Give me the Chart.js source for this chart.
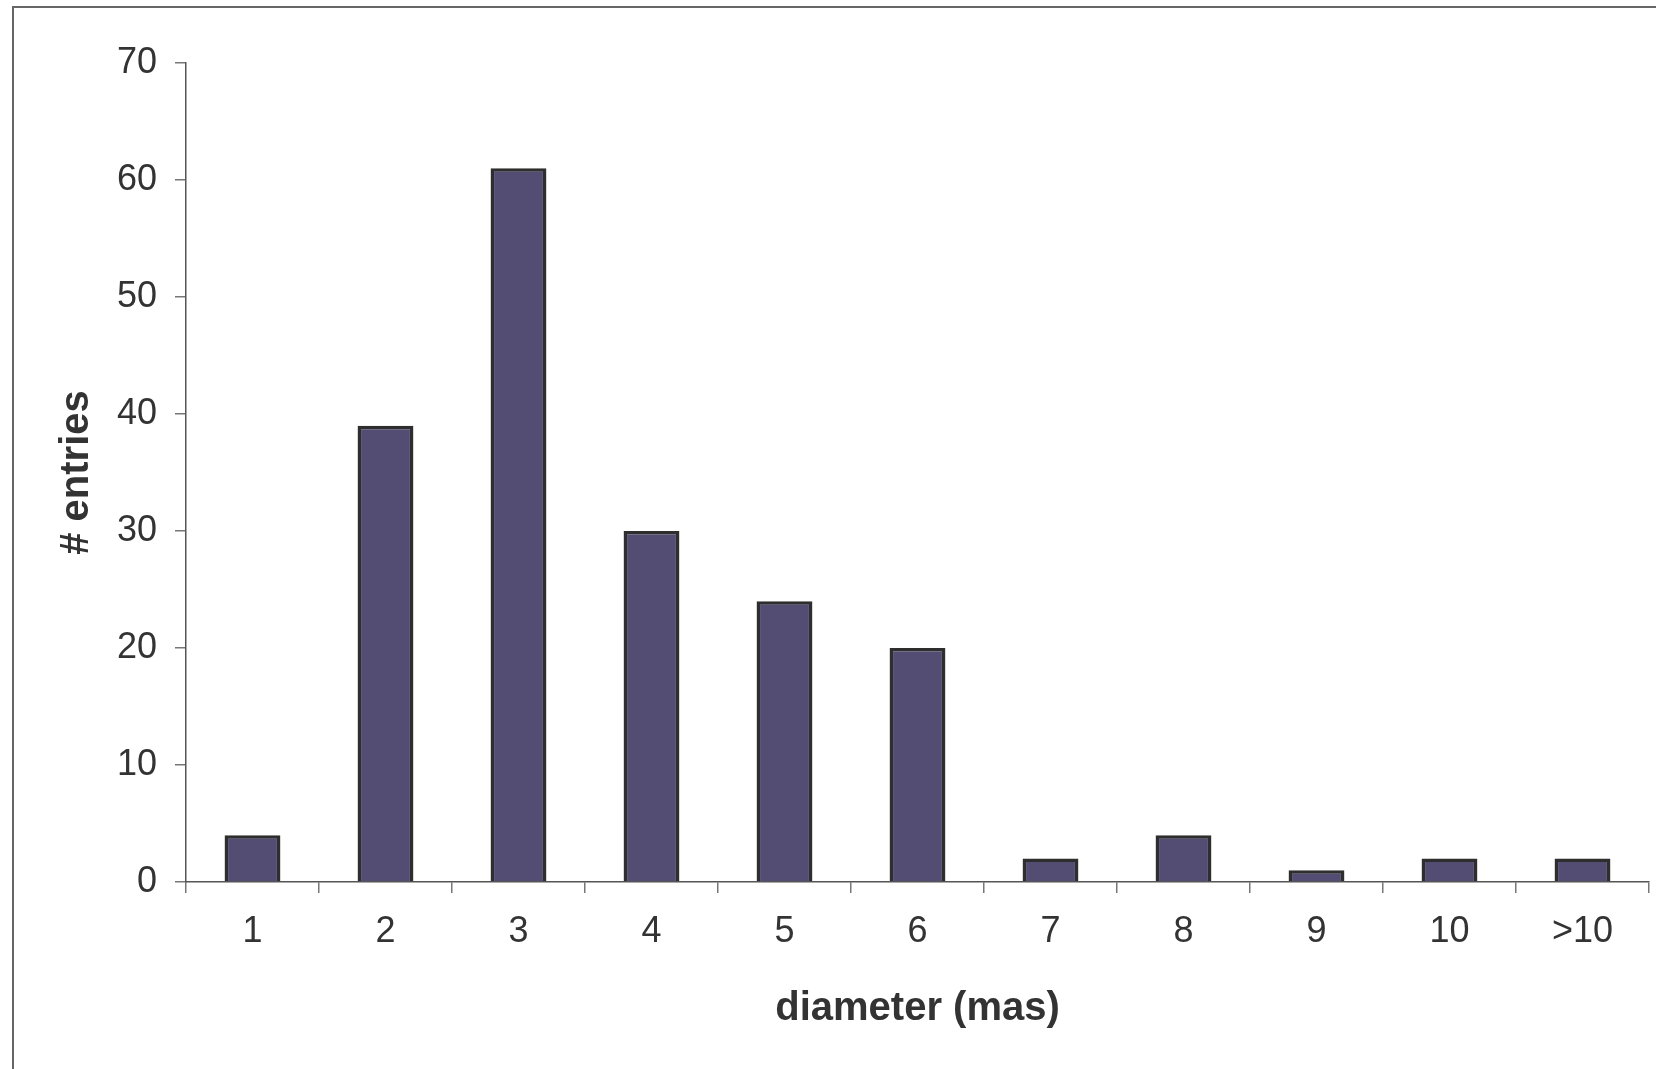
<!DOCTYPE html>
<html>
<head>
<meta charset="utf-8">
<script src="https://cdn.jsdelivr.net/npm/chart.js@4.4.1/dist/chart.umd.min.js"></script>
<style>
  html, body { margin: 0; padding: 0; background: #ffffff; }
  #wrap { position: relative; width: 1656px; height: 1069px; overflow: hidden; }
  #frame { position: absolute; left: 12px; top: 6px; right: -10px; bottom: -10px;
           border-top: 2px solid #666666; border-left: 2px solid #666666; }
  #c { position: absolute; left: 0; top: 0; }
</style>
</head>
<body>
<div id="wrap">
  <div id="frame"></div>
  <canvas id="c" width="1656" height="1069"></canvas>
</div>
<script>
const categories = ["1", "2", "3", "4", "5", "6", "7", "8", "9", "10", ">10"];
const entries = [4, 39, 61, 30, 24, 20, 2, 4, 1, 2, 2];
const yTicks = [0, 10, 20, 30, 40, 50, 60, 70];
const xTitle = "diameter (mas)";
const yTitle = "# entries";

const FONT = "'Liberation Sans', Arial, Helvetica, sans-serif";
const TXT = "#333333";

new Chart(document.getElementById("c"), {
  type: "bar",
  data: {
    labels: categories,
    datasets: [{
      data: entries,
      backgroundColor: "#544d73",
      borderColor: "#2e2e2e",
      borderWidth: 3.5,
      categoryPercentage: 1.0,
      barPercentage: 0.42
    }]
  },
  options: {
    responsive: false,
    animation: false,
    devicePixelRatio: 1,
    layout: { padding: { left: 53, right: 7, top: 63, bottom: 36 } },
    plugins: { legend: { display: false }, tooltip: { enabled: false } },
    scales: {
      x: {
        offset: true,
        grid: { display: true, drawOnChartArea: false, offset: true, tickLength: 11, color: "#777777", lineWidth: 1.5 },
        border: { display: true, color: "#555555", width: 1.5 },
        ticks: { color: TXT, font: { family: FONT, size: 36 }, padding: 17, maxRotation: 0, autoSkip: false },
        title: { display: true, text: xTitle, color: TXT, font: { family: FONT, size: 40, weight: "bold" }, padding: { top: 0, bottom: 0 } },
        afterFit: s => { s.height = 151; }
      },
      y: {
        min: 0, max: 70,
        afterBuildTicks: s => { s.ticks = yTicks.map(v => ({ value: v })); },
        grid: { display: true, drawOnChartArea: false, tickLength: 11, color: "#777777", lineWidth: 1.5 },
        border: { display: true, color: "#555555", width: 1.5 },
        ticks: { color: TXT, font: { family: FONT, size: 36 }, padding: 18 },
        title: { display: true, text: yTitle, color: TXT, font: { family: FONT, size: 40, weight: "bold" }, padding: { top: 0, bottom: 0 } },
        afterFit: s => { s.width = 133; }
      }
    }
  }
});
</script>
</body>
</html>
